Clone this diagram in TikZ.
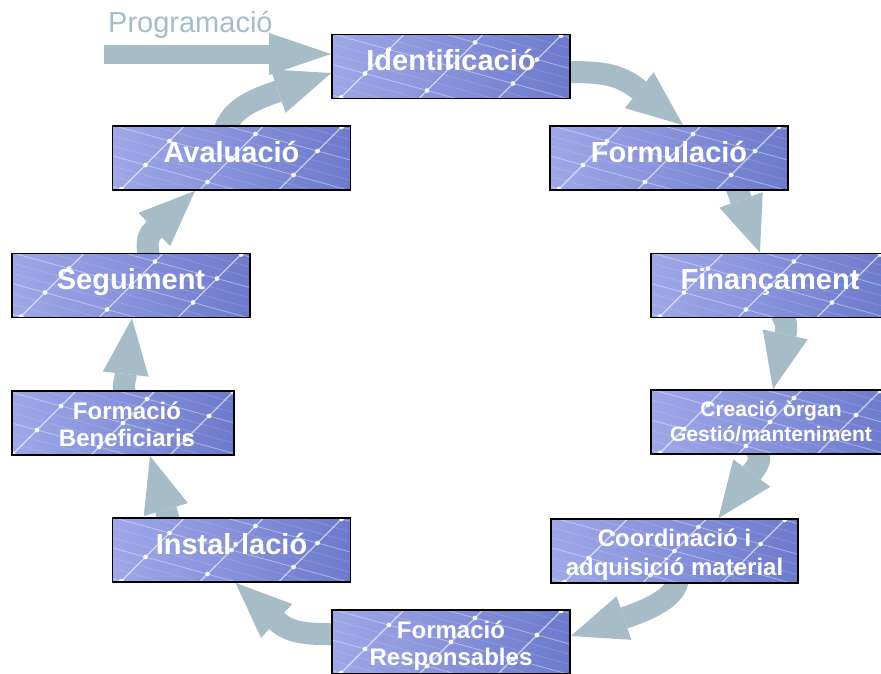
\documentclass[tikz,border=0pt]{standalone}
\usepackage{fontspec}
\setmainfont{Liberation Sans}
\usetikzlibrary{arrows.meta,calc}
\definecolor{arrowc}{RGB}{166,189,200}
\definecolor{pnlL}{RGB}{158,168,232}
\definecolor{pnlR}{RGB}{108,122,204}
\pgfdeclarelayer{bg}
\pgfsetlayers{bg,main}
\newcommand\panelgrid{%
  \begin{scope}[shift={(path picture bounding box.center)}, x={(62pt,-17pt)}, y={(24pt,24pt)}]
    \foreach \j in {-6,...,6}{
      \draw[white, opacity=.4, line width=.8pt] (-4,\j) -- (4,\j);
      \draw[white, opacity=.18, line width=.6pt] (-4,\j+.333) -- (4,\j+.333);
      \draw[white, opacity=.18, line width=.6pt] (-4,\j+.667) -- (4,\j+.667);
    }
    \foreach \i in {-4,...,4}{
      \draw[white, opacity=.6, line width=1.2pt] (\i,-6) -- (\i,6);
      \foreach \j in {-6,...,6} \fill[white, opacity=.9] (\i,\j) circle[radius=2.4pt];
    }
  \end{scope}}
\tikzset{
  panel/.style={draw=black, line width=1.8pt, minimum width=238pt, minimum height=64pt,
    inner sep=0pt, left color=pnlL, right color=pnlR, path picture={\panelgrid}},
  lbl/.style={text=white, font=\bfseries\fontsize{29}{32}\selectfont, anchor=base, inner sep=0pt},
  lblm/.style={lbl, font=\bfseries\fontsize{24}{28}\selectfont},
  lbls/.style={lbl, font=\bfseries\fontsize{21}{26}\selectfont},
  flow/.style={draw=arrowc, line width=22pt, -{Triangle[length=56pt,width=46pt,line width=0pt]}},
  progflow/.style={draw=arrowc, line width=19pt, -{Triangle[length=62pt,width=42pt,line width=0pt]}},
}
\begin{document}
\begin{tikzpicture}[x=1pt,y=-1pt]
\useasboundingbox (0,0) rectangle (881,673);
% boxes
\node[panel] (iden) at (451,66.5) {};
\node[panel] (form) at (669,158) {};
\node[panel] (fina) at (770,285.5) {};
\node[panel] (crea) at (770,422) {};
\node[panel, minimum width=247pt] (coor) at (674.5,551) {};
\node[panel] (fres) at (451,642) {};
\node[panel] (inst) at (231.5,550) {};
\node[panel, minimum width=222pt] (fben) at (123,423) {};
\node[panel] (segu) at (131,285.5) {};
\node[panel] (aval) at (231.5,158) {};
% labels
\node[lbl] (tiden) at ($(iden.center)+(0,4)$) {Identificació};
\node[lbl] (tform) at ($(form.center)+(0,4)$) {Formulació};
\node[lbl] (tfina) at ($(fina.center)+(0,4)$) {Finançament};
\node[lbls] (tcrea1) at ($(crea.center)+(1,-5.3)$) {Creació òrgan};
\node[lbls] (tcrea2) at ($(crea.center)+(1,19.7)$) {Gestió/manteniment};
\node[lblm] (tcoor1) at ($(coor.center)+(0,-4.3)$) {Coordinació i};
\node[lblm] (tcoor2) at ($(coor.center)+(0,24)$) {adquisició material};
\node[lblm] (tfres1) at ($(fres.center)+(0,-4)$) {Formació};
\node[lblm] (tfres2) at ($(fres.center)+(0,23.5)$) {Responsables};
\node[lbl] (tinst) at ($(inst.center)+(0,4)$) {Instal·lació};
\node[lblm] (tfben1) at ($(fben.center)+(4,-4)$) {Formació};
\node[lblm] (tfben2) at ($(fben.center)+(4,23.7)$) {Beneficiaris};
\node[lbl] (tsegu) at ($(segu.center)+(0,4)$) {Seguiment};
\node[lbl] (taval) at ($(aval.center)+(0,4)$) {Avaluació};
\node[anchor=base west, inner sep=0pt, text=arrowc, font=\fontsize{29}{32}\selectfont] (prog) at (108,32) {Programació};
\coordinate (progstart) at (104,54);
% arrows
\begin{pgfonlayer}{bg}
\fill[white] (0,0) rectangle (881,673);
\draw[progflow] (progstart) -- ($(iden.west)+(0,-12.5)$);
\draw[flow] ($(iden.east)+(-5,5.5)$) .. controls +(35,0) and +(-20,-16) .. ($(form.north)+(14,0)+(-44.5,-35.6)$) -- ($(form.north)+(14,0)$);
\draw[flow] ($(form.south)+(67,-5)$) -- ($(fina.north)+(-10,0)$);
\draw[flow] ($(fina.south)+(11,-5)$) .. controls +(5,8) and +(2,-8) .. ($(crea.north)+(3,0)+(12.4,-55.6)$) -- ($(crea.north)+(3,0)$);
\draw[flow] ($(crea.south)+(-14,-5)$) .. controls +(6,8) and +(6,-8) .. ($(coor.north)+(44,0)+(33.9,-45.8)$) -- ($(coor.north)+(44,0)$);
\draw[flow] ($(coor.south)+(3,-5)$) .. controls +(0,18) and +(23.7,-8) .. ($(fres.east)+(0,-6)+(54,-18.3)$) -- ($(fres.east)+(0,-6)$);
\draw[flow] ($(fres.west)+(5,-8)$) .. controls +(-20,0) and +(14.7,13.6) .. ($(inst.south)+(4,0)+(41.9,38.7)$) -- ($(inst.south)+(4,0)$);
\draw[flow] ($(inst.north)+(-62,5)$) -- ($(fben.south)+(27,0)$);
\draw[flow] ($(fben.north)+(3,5)$) .. controls +(-4,-8) and +(-0.9,8) .. ($(segu.south)+(1,0)+(-6.4,56.7)$) -- ($(segu.south)+(1,0)$);
\draw[flow] ($(segu.north)+(18,5)$) .. controls +(-2,-12) and +(-7.3,6.9) .. ($(aval.south)+(-36.5,0)+(-41.4,39.2)$) -- ($(aval.south)+(-36.5,0)$);
\draw[flow] ($(aval.north)+(-7,5)$) .. controls +(8,-22) and +(-23.6,8.1) .. ($(iden.west)+(0,6.5)+(-53.9,18.5)$) -- ($(iden.west)+(0,6.5)$);
\end{pgfonlayer}
\end{tikzpicture}
\end{document}
